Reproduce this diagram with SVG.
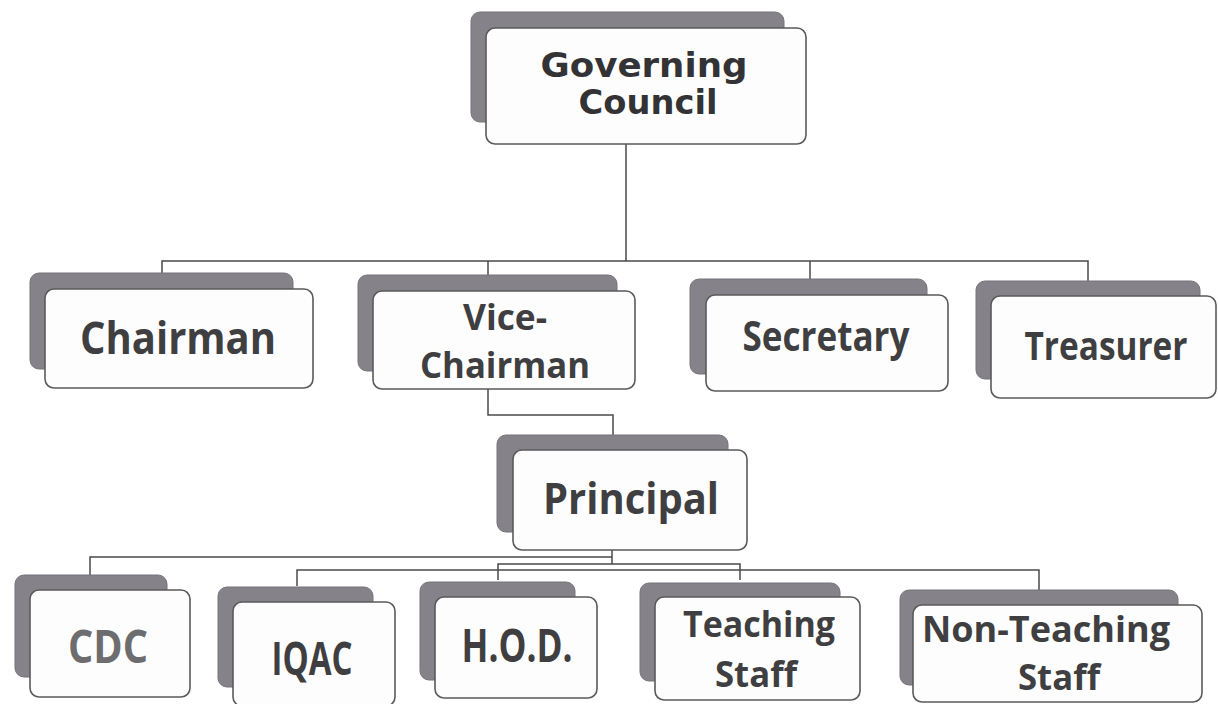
<svg xmlns="http://www.w3.org/2000/svg" width="1218" height="704" viewBox="0 0 1218 704">
<style>
.sh{fill:#85828a;stroke:#76737b;stroke-width:1}
.bx{fill:#fdfdfd;stroke:#5a5a5a;stroke-width:1.6}
.t{font-family:"Open Sans","Liberation Sans",sans-serif;font-weight:700;fill:#3f3f42;text-anchor:middle}
.g{font-family:"DejaVu Sans","Liberation Sans",sans-serif;font-weight:700;fill:#333336;text-anchor:middle}
.c{fill:none;stroke:#4a4a4a;stroke-width:1.5}
</style>
<rect width="1218" height="704" fill="#ffffff"/>
<g id="connectors">
<path class="c" d="M626 144V261M162 273V261H1088V281M488 261V276M810 261V279"/>
<path class="c" d="M488 389V415H613V435"/>
<path class="c" d="M612 550V564M90 575V557H612M297 586V570H1039V591M498 580V564H740V580"/>
</g>
<g id="governing-council">
<rect class="sh" x="471" y="12" width="313" height="110" rx="9"/>
<rect class="bx" x="486" y="28" width="320" height="116" rx="9"/>
<text class="g" x="644" y="77" font-size="34" textLength="207" lengthAdjust="spacingAndGlyphs">Governing</text>
<text class="g" x="648" y="114" font-size="34" textLength="139" lengthAdjust="spacingAndGlyphs">Council</text>
</g>
<g id="chairman">
<rect class="sh" x="30" y="273" width="263" height="96" rx="9"/>
<rect class="bx" x="45" y="289" width="268" height="99" rx="9"/>
<text class="t" x="178" y="354" font-size="44" textLength="196" lengthAdjust="spacingAndGlyphs">Chairman</text>
</g>
<g id="vice-chairman">
<rect class="sh" x="358" y="275" width="259" height="96" rx="9"/>
<rect class="bx" x="373" y="291" width="262" height="98" rx="9"/>
<text class="t" x="505" y="330" font-size="35" textLength="84" lengthAdjust="spacingAndGlyphs">Vice-</text>
<text class="t" x="505" y="378" font-size="35" textLength="170" lengthAdjust="spacingAndGlyphs">Chairman</text>
</g>
<g id="secretary">
<rect class="sh" x="690" y="279" width="237" height="95" rx="9"/>
<rect class="bx" x="706" y="295" width="242" height="96" rx="9"/>
<text class="t" x="826" y="351" font-size="41" textLength="167" lengthAdjust="spacingAndGlyphs">Secretary</text>
</g>
<g id="treasurer">
<rect class="sh" x="976" y="281" width="224" height="98" rx="9"/>
<rect class="bx" x="991" y="296" width="225" height="102" rx="9"/>
<text class="t" x="1106" y="360" font-size="40" textLength="163" lengthAdjust="spacingAndGlyphs">Treasurer</text>
</g>
<g id="principal">
<rect class="sh" x="497" y="435" width="231" height="97" rx="9"/>
<rect class="bx" x="513" y="450" width="234" height="100" rx="9"/>
<text class="t" x="631" y="514" font-size="43" textLength="176" lengthAdjust="spacingAndGlyphs">Principal</text>
</g>
<g id="cdc">
<rect class="sh" x="15" y="575" width="152" height="102" rx="9"/>
<rect class="bx" x="30" y="590" width="160" height="107" rx="9"/>
<text class="t" x="108" y="663" font-size="46" textLength="80" lengthAdjust="spacingAndGlyphs" style="fill:#6d6d70">CDC</text>
</g>
<g id="iqac">
<rect class="sh" x="218" y="587" width="155" height="100" rx="9"/>
<rect class="bx" x="233" y="602" width="162" height="104" rx="9"/>
<text class="t" x="312" y="675" font-size="46" textLength="81" lengthAdjust="spacingAndGlyphs">IQAC</text>
</g>
<g id="hod">
<rect class="sh" x="420" y="582" width="155" height="98" rx="9"/>
<rect class="bx" x="435" y="597" width="162" height="101" rx="9"/>
<text class="t" x="517" y="662" font-size="46" textLength="111" lengthAdjust="spacingAndGlyphs">H.O.D.</text>
</g>
<g id="teaching-staff">
<rect class="sh" x="640" y="583" width="200" height="98" rx="9"/>
<rect class="bx" x="655" y="597" width="205" height="103" rx="9"/>
<text class="t" x="759" y="637" font-size="36" textLength="152" lengthAdjust="spacingAndGlyphs">Teaching</text>
<text class="t" x="756" y="687" font-size="36" textLength="82" lengthAdjust="spacingAndGlyphs">Staff</text>
</g>
<g id="non-teaching-staff">
<rect class="sh" x="900" y="590" width="278" height="95" rx="9"/>
<rect class="bx" x="913" y="605" width="289" height="97" rx="9"/>
<text class="t" x="1046" y="642" font-size="36" textLength="248" lengthAdjust="spacingAndGlyphs">Non-Teaching</text>
<text class="t" x="1059" y="690" font-size="36" textLength="82" lengthAdjust="spacingAndGlyphs">Staff</text>
</g>
</svg>
